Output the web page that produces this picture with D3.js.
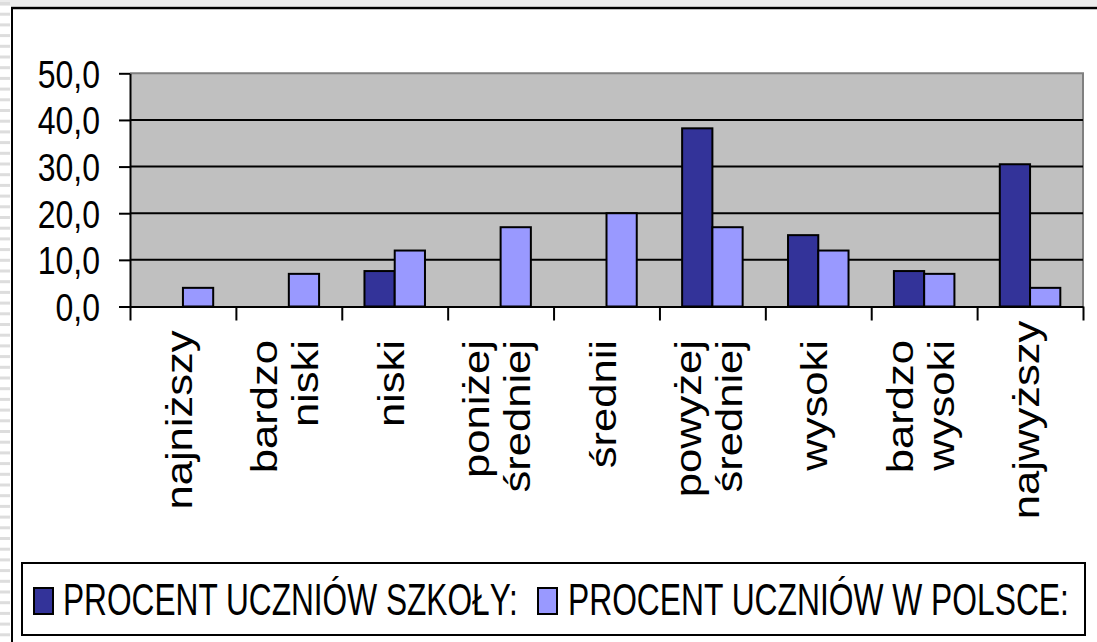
<!DOCTYPE html>
<html>
<head>
<meta charset="utf-8">
<script src="https://cdn.jsdelivr.net/npm/d3@7"></script>
<style>
  html, body { margin: 0; padding: 0; background: #ffffff; }
  svg { display: block; }
  text { font-family: "Liberation Sans", Arial, sans-serif; fill: #000; }
</style>
</head>
<body>
<svg id="chart" width="1097" height="642"></svg>
<script>
// ---- data ----
const categories = ["najniższy", "bardzo\nniski", "niski", "poniżej\nśredniej", "średnii",
                    "powyżej\nśredniej", "wysoki", "bardzo\nwysoki", "najwyższy"];
const schoolValues = [0, 0, 7.6, 0, 0, 38.2, 15.3, 7.6, 30.5];
const polandValues = [4, 7, 12, 17, 20, 17, 12, 7, 4];
const seriesNames = ["PROCENT UCZNIÓW SZKOŁY:", "PROCENT UCZNIÓW W POLSCE:"];
const seriesColors = ["#333399", "#9999ff"];
const yTicks = [0, 10, 20, 30, 40, 50];

// ---- layout ----
const W = 1097, H = 642;
const plot = { left: 130, right: 1083, top: 73.3, bottom: 306.5 };
const svg = d3.select("#chart");

// page decoration (frame)
svg.append("rect").attr("x", 0).attr("y", 0).attr("width", W).attr("height", 6).attr("fill", "#ececec");
svg.append("g").selectAll("rect").data(d3.range(0, H, 10.7)).join("rect")
  .attr("x", 0).attr("y", d => d + 2).attr("width", 10).attr("height", 3).attr("fill", "#dddddd");
svg.append("line").attr("x1", 11).attr("x2", W).attr("y1", 8).attr("y2", 8)
  .attr("stroke", "#000").attr("stroke-width", 2.5);
svg.append("line").attr("x1", 12).attr("x2", 12).attr("y1", 7).attr("y2", H)
  .attr("stroke", "#000").attr("stroke-width", 2);

// scales
const idx = d3.range(categories.length);
const x = d3.scaleBand().domain(idx).range([plot.left, plot.right]).paddingInner(0).paddingOuter(0);
const xSub = d3.scaleBand().domain([0, 1]).range([0, x.bandwidth()]).paddingInner(0).paddingOuter(0.75);
const y = d3.scaleLinear().domain([0, 50]).range([plot.bottom, plot.top]);

// plot area
svg.append("rect").attr("x", plot.left).attr("y", plot.top)
  .attr("width", plot.right - plot.left).attr("height", plot.bottom - plot.top)
  .attr("fill", "#c0c0c0");
svg.append("path")
  .attr("d", `M${plot.left},${plot.top}H${plot.right}V${plot.bottom}`)
  .attr("fill", "none").attr("stroke", "#808080").attr("stroke-width", 2);

// gridlines
svg.append("g").selectAll("line").data(yTicks.filter(t => t > 0 && t < 50)).join("line")
  .attr("x1", plot.left).attr("x2", plot.right)
  .attr("y1", d => y(d)).attr("y2", d => y(d))
  .attr("stroke", "#000").attr("stroke-width", 2);

// bars
const series = [schoolValues, polandValues];
series.forEach((vals, s) => {
  svg.append("g").selectAll("rect")
    .data(vals.map((v, i) => ({ v, i })).filter(d => d.v > 0))
    .join("rect")
    .attr("x", d => x(d.i) + xSub(s))
    .attr("y", d => y(d.v))
    .attr("width", xSub.bandwidth())
    .attr("height", d => y(0) - y(d.v))
    .attr("fill", seriesColors[s])
    .attr("stroke", "#000").attr("stroke-width", 2);
});

// y axis
const yAxis = svg.append("g").attr("transform", `translate(${plot.left},0)`)
  .call(d3.axisLeft(y).tickValues(yTicks).tickSize(11).tickSizeOuter(0)
    .tickFormat(d => d.toFixed(1).replace(".", ",")));
yAxis.select(".domain").attr("stroke", "#000").attr("stroke-width", 2);
yAxis.selectAll(".tick line").attr("stroke", "#000").attr("stroke-width", 2);
yAxis.selectAll(".tick text")
  .attr("x", 0).attr("dy", null).attr("y", 0)
  .attr("font-size", 39).attr("text-anchor", "end")
  .attr("fill", "#000")
  .style("font-family", "'Liberation Sans', Arial, sans-serif")
  .attr("transform", "translate(-30,14) scale(0.82,1)");

// x axis (ticks at category boundaries)
const xb = d3.scaleLinear().domain([0, categories.length]).range([plot.left, plot.right]);
const xAxis = svg.append("g").attr("transform", `translate(0,${plot.bottom})`)
  .call(d3.axisBottom(xb).ticks(categories.length).tickSize(14).tickSizeOuter(0).tickFormat(""));
xAxis.select(".domain").attr("stroke", "#000").attr("stroke-width", 2);
xAxis.selectAll(".tick line").attr("stroke", "#000").attr("stroke-width", 2);

// category labels (rotated)
const labG = svg.append("g");
const stretch = 1.21, lineGap = 41;
categories.forEach((c, i) => {
  const lines = c.split("\n");
  const cx = x(i) + x.bandwidth() / 2;
  lines.forEach((ln, j) => {
    const bx = cx + 9 + (j - (lines.length - 1) / 2) * lineGap;
    const t = labG.append("text").text(ln)
      .attr("font-size", 36).attr("text-anchor", "end");
    const L = t.node().getComputedTextLength() * stretch;
    const top = Math.min(340, 420 - L / 2);
    t.attr("transform", `translate(${bx},${top}) rotate(-90) scale(${stretch},1)`);
  });
});

// legend
svg.append("rect").attr("x", 22).attr("y", 563).attr("width", 1063).attr("height", 72)
  .attr("fill", "#fff").attr("stroke", "#000").attr("stroke-width", 2);
const legendItems = [
  { sx: 34, tx: 63, tl: 455 },
  { sx: 538, tx: 568, tl: 501 }
];
legendItems.forEach((li, s) => {
  svg.append("rect").attr("x", li.sx).attr("y", 588).attr("width", 19).attr("height", 26)
    .attr("fill", seriesColors[s]).attr("stroke", "#000").attr("stroke-width", 2);
  const t = svg.append("text").text(seriesNames[s]).attr("font-size", 44);
  const w = t.node().getComputedTextLength();
  t.attr("transform", `translate(${li.tx},615) scale(${li.tl / w},1)`);
});
</script>
</body>
</html>
